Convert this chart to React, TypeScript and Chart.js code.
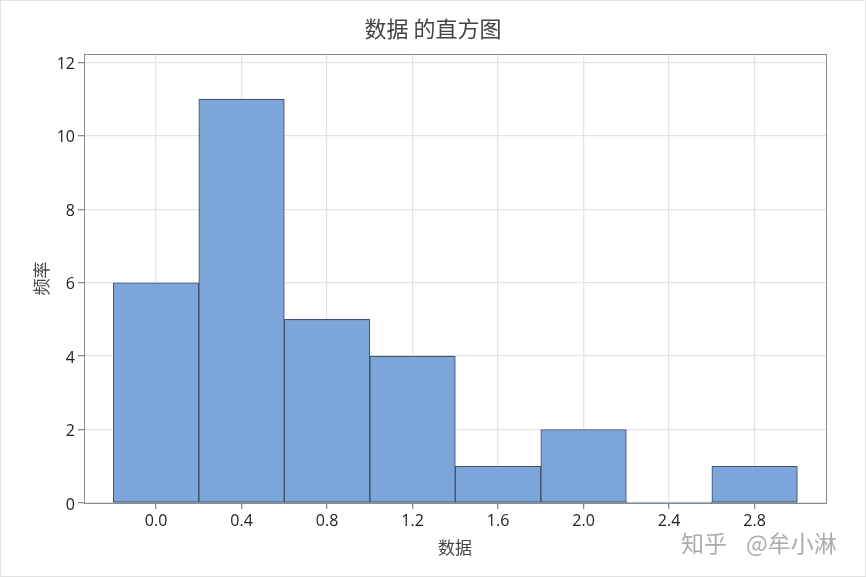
import { useEffect, useRef } from "react";
import { Chart, registerables } from "chart.js";

Chart.register(...registerables);

const binCenters = [0.0, 0.4, 0.8, 1.2, 1.6, 2.0, 2.4, 2.8];
const frequencies = [6, 11, 5, 4, 1, 2, 0, 1];
const xTicks = [0.0, 0.4, 0.8, 1.2, 1.6, 2.0, 2.4, 2.8];
const yTicks = [0, 2, 4, 6, 8, 10, 12];

const FONT = '"Noto Sans CJK SC", "Noto Sans", sans-serif';
const TICK_FONT = '"Open Sans", "Noto Sans", sans-serif';

// thin frame round the page and the site watermark from the reference
const decorations = {
  id: "decorations",
  beforeDraw(chart: Chart) {
    const { ctx, width, height } = chart;
    ctx.save();
    ctx.fillStyle = "#ffffff";
    ctx.fillRect(0, 0, width, height);
    ctx.strokeStyle = "#e2e2e2";
    ctx.lineWidth = 2;
    ctx.strokeRect(0, 0, width, height);
    ctx.restore();
  },
  afterDatasetsDraw(chart: Chart) {
    const { ctx, chartArea: a } = chart;
    ctx.save();
    ctx.strokeStyle = "#8a8a8a";
    ctx.lineWidth = 1;
    ctx.strokeRect(a.left + 0.5, a.top + 0.5, a.right - a.left, a.bottom - a.top);
    ctx.restore();
  },
  afterDraw(chart: Chart) {
    const { ctx } = chart;
    ctx.save();
    ctx.font = `23px ${FONT}`;
    ctx.fillStyle = "rgba(150,150,150,0.8)";
    ctx.textAlign = "left";
    ctx.textBaseline = "middle";
    ctx.fillText("知乎", 681, 543);
    ctx.fillText("@牟小淋", 746, 543);
    ctx.restore();
  },
};

const App = () => {
  const canvasRef = useRef<HTMLCanvasElement>(null);

  useEffect(() => {
    document.body.style.margin = "0";
    if (!canvasRef.current) return;
    const chart = new Chart(canvasRef.current, {
      type: "bar",
      data: {
        datasets: [
          {
            label: "频率",
            data: binCenters.map((x, i) => ({ x, y: frequencies[i] })),
            backgroundColor: "#7ca6da",
            borderColor: "#44546a",
            borderWidth: 1.1,
            borderSkipped: false,
            minBarLength: 1,
            barPercentage: 1,
            categoryPercentage: 1,
          },
        ],
      },
      options: {
        responsive: false,
        animation: false,
        plugins: {
          legend: { display: false },
          tooltip: { enabled: false },
          title: {
            display: true,
            text: "数据 的直方图",
            color: "#444444",
            font: { family: FONT, size: 22, weight: "normal", lineHeight: 1.2 },
            padding: { top: 15, bottom: 12.6 },
          },
        },
        scales: {
          x: {
            type: "linear",
            offset: false,
            min: -0.337,
            max: 3.134,
            afterBuildTicks: (axis) => {
              axis.ticks = xTicks.map((value) => ({ value }));
            },
            afterFit: (axis) => {
              axis.height = 74;
            },
            grid: { offset: false, color: "#e4e4e4", lineWidth: 1.3, tickColor: "#8a8a8a", tickLength: 6 },
            border: { color: "#8a8a8a", width: 1 },
            ticks: {
              color: "#222222",
              font: { family: TICK_FONT, size: 16 },
              maxRotation: 0,
              padding: 3,
              callback: (v) => Number(v).toFixed(1),
            },
            title: {
              display: true,
              text: "数据",
              color: "#444444",
              font: { family: FONT, size: 17, lineHeight: 1.2 },
              padding: { top: 0, bottom: 19 },
            },
          },
          y: {
            min: 0,
            max: 12.23,
            afterBuildTicks: (axis) => {
              axis.ticks = yTicks.map((value) => ({ value }));
            },
            afterFit: (axis) => {
              axis.width = 84;
            },
            grid: { color: "#e4e4e4", lineWidth: 1.3, tickColor: "#8a8a8a", tickLength: 6 },
            border: { color: "#8a8a8a", width: 1 },
            ticks: {
              color: "#222222",
              font: { family: TICK_FONT, size: 16 },
              padding: 3,
              labelOffset: 2,
            },
            title: {
              display: true,
              text: "频率",
              color: "#444444",
              font: { family: FONT, size: 17, lineHeight: 1.2 },
              padding: { top: 31, bottom: 0 },
            },
          },
          // empty right axis keeps the plot narrow while the title stays centred on the page
          yRight: {
            position: "right",
            grid: { display: false },
            border: { display: false },
            ticks: { display: false },
            afterFit: (axis) => {
              axis.width = 40;
            },
          },
        },
      },
      plugins: [decorations],
    });
    return () => {
      chart.destroy();
    };
  }, []);

  return <canvas ref={canvasRef} width={866} height={577} style={{ display: "block" }} />;
};

export default App;
